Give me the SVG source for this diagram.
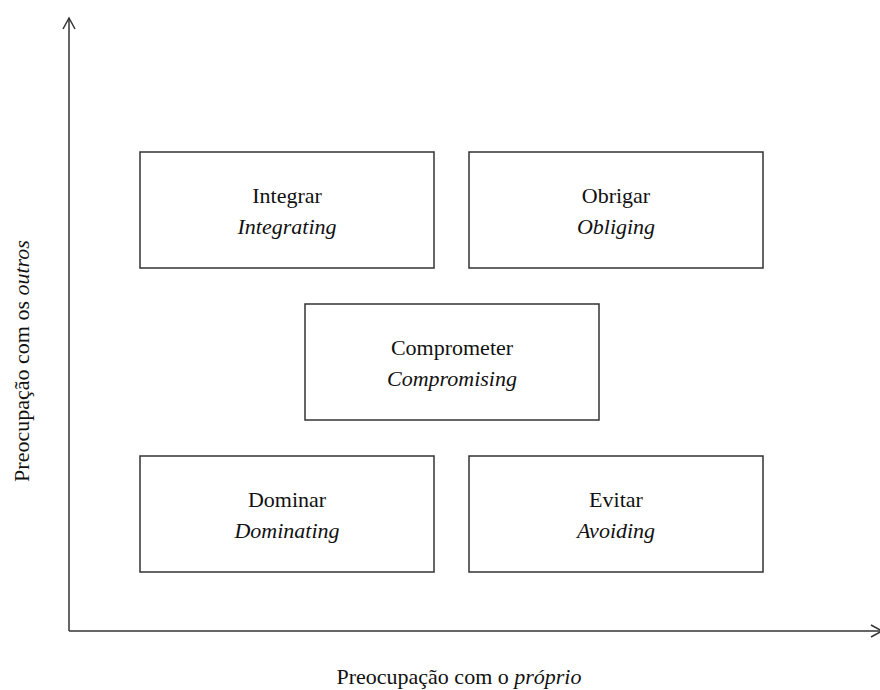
<svg xmlns="http://www.w3.org/2000/svg" width="880" height="690" viewBox="0 0 880 690">
<style>
.box{fill:#fff;stroke:#333;stroke-width:1.5}
.t{font-family:"Liberation Serif",serif;font-size:22px;fill:#111;text-anchor:middle}
.i{font-style:italic}
.ax{stroke:#333;stroke-width:1.5;fill:none}
</style>
<defs>
<marker id="arr" markerWidth="14" markerHeight="14" refX="12" refY="7" orient="auto" markerUnits="userSpaceOnUse">
<path d="M1,1 L12,7 L1,13" fill="none" stroke="#333" stroke-width="1.5"/>
</marker>
</defs>
<g id="axes">
<line class="ax" x1="69" y1="631" x2="69" y2="18" marker-end="url(#arr)"/>
<line class="ax" x1="69" y1="631" x2="882" y2="631" marker-end="url(#arr)"/>
<text class="t" x="459" y="684">Preocupação com o <tspan class="i">próprio</tspan></text>
<text class="t" transform="translate(29,361) rotate(-90)">Preocupação com os <tspan class="i">outros</tspan></text>
</g>
<g id="integrar"><rect class="box" x="140" y="152" width="294" height="116"/><text class="t" x="287" y="203">Integrar</text><text class="t i" x="287" y="234">Integrating</text></g>
<g id="obrigar"><rect class="box" x="469" y="152" width="294" height="116"/><text class="t" x="616" y="203">Obrigar</text><text class="t i" x="616" y="234">Obliging</text></g>
<g id="comprometer"><rect class="box" x="305" y="304" width="294" height="116"/><text class="t" x="452" y="355">Comprometer</text><text class="t i" x="452" y="386">Compromising</text></g>
<g id="dominar"><rect class="box" x="140" y="456" width="294" height="116"/><text class="t" x="287" y="507">Dominar</text><text class="t i" x="287" y="538">Dominating</text></g>
<g id="evitar"><rect class="box" x="469" y="456" width="294" height="116"/><text class="t" x="616" y="507">Evitar</text><text class="t i" x="616" y="538">Avoiding</text></g>
</svg>
